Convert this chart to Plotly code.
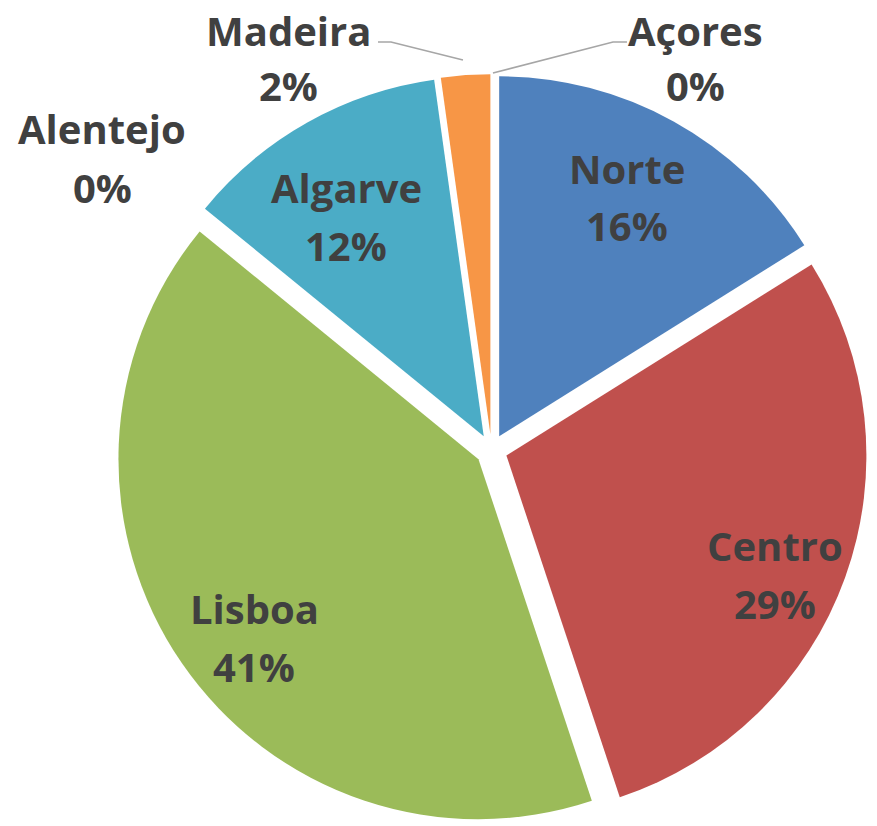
import plotly.graph_objects as go

# ---- data ----
regions = ["Norte", "Centro", "Lisboa", "Alentejo", "Algarve", "Madeira", "Açores"]
values = [16.1, 28.8, 41.0, 0.0, 11.9, 2.2, 0.0]
colors = ["#4F81BD", "#C0504D", "#9BBB59", "#8064A2", "#4BACC6", "#F79646", "#2C4D75"]

total = sum(values)

# ---- layout helpers (page pixels) ----
W, H = 877, 826


def to_paper(X, Y):
    return X / W, 1 - Y / H


FONT = "Open Sans"
TXT = "#404040"
FSIZE = 40

# label anchor positions (page px): x centre, y of name line, y of percent line
label_pos = {
    "Norte": (627, 168, 226),
    "Centro": (775, 545, 603),
    "Lisboa": (254, 608, 666),
    "Alentejo": (102, 129, 187),
    "Algarve": (346, 188, 245),
    "Madeira": (288, 30, 86),
    "Açores": (695, 30, 86),
}

# pie placement: centre (491.5, 450) page px
cx = 491.5
pull = 0.044
r = 360
half = r * (1 + pull)
dom_x = [(cx - half) / W, (cx + half) / W]
dom_y = [0.0, 2 * half / H]

fig = go.Figure(go.Pie(
    labels=regions,
    values=values,
    sort=False,
    direction="clockwise",
    rotation=0,
    pull=[pull] * len(values),
    marker=dict(colors=colors, line=dict(width=0)),
    textinfo="none",
    showlegend=False,
    hoverinfo="label+percent",
    domain=dict(x=dom_x, y=dom_y),
))

for name, v in zip(regions, values):
    X, Y1, Y2 = label_pos[name]
    for Y, txt in ((Y1, name), (Y2, f"{v / total:.0%}")):
        x, y = to_paper(X, Y)
        fig.add_annotation(
            x=x, y=y, xref="paper", yref="paper", showarrow=False,
            text=txt,
            font=dict(family=FONT, size=FSIZE, color=TXT, weight="bold"),
            xanchor="center", yanchor="middle", align="center",
        )

# leader lines for the small outside labels (page px)
lines = [
    [(378, 42), (391, 42), (463, 60)],
    [(493, 73), (613, 42), (627, 42)],
]
for pts in lines:
    path = "M " + " L ".join("{:.4f},{:.4f}".format(*to_paper(*p)) for p in pts)
    fig.add_shape(type="path", path=path, xref="paper", yref="paper",
                  line=dict(color="#A6A6A6", width=1.5))

fig.update_layout(
    width=W, height=H,
    margin=dict(l=0, r=0, t=0, b=0),
    paper_bgcolor="white",
    plot_bgcolor="white",
)

fig.write_html("out.html", config={"displayModeBar": False},
               post_script="document.body.style.margin='0';")
